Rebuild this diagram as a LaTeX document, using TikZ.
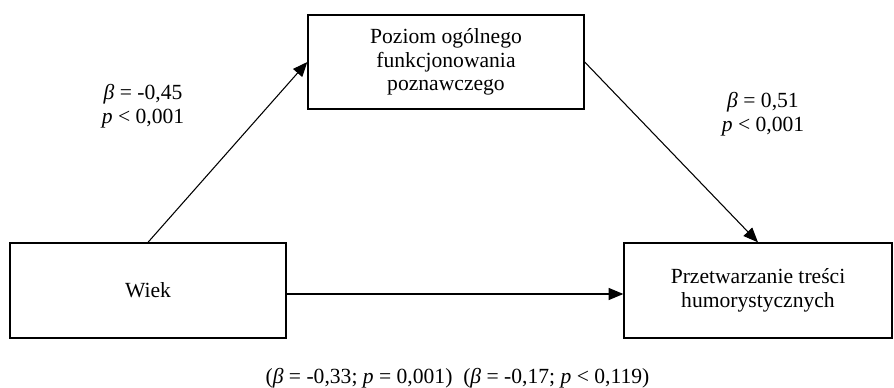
\documentclass[tikz,border=0pt]{standalone}
\usepackage{fontspec}
\setmainfont{Liberation Serif}
\usetikzlibrary{arrows.meta,calc}
\begin{document}
\begin{tikzpicture}[x=0.75pt,y=-0.75pt,
  font=\fontsize{16.2}{17.8}\selectfont,
  box/.style={draw=black,line width=1pt,inner sep=0pt,align=center,minimum height=71.25pt},
  arr/.style={draw=black,line width=0.8pt,-{Triangle[length=11pt,width=9pt]}},
  lab/.style={inner sep=0pt,align=center}]
\useasboundingbox (0,0) rectangle (894,388);
\node[box,minimum width=207pt,minimum height=70.5pt] (top) at (446,62) {Poziom ogólnego\\funkcjonowania\\poznawczego};
\node[box,minimum width=207pt] (wiek) at (148,290.5) {Wiek};
\node[box,minimum width=201pt] (out) at (758,290.5) {Przetwarzanie treści\\humorystycznych};
\draw[arr] (wiek.north) -- (top.west);
\draw[arr] (top.east) -- (out.north);
\draw[arr] ($(wiek.east)+(0,3.5)$) -- ($(out.west)+(0,3.5)$);
\node[lab] (l1) at (143,106) {\textit{β} = -0,45\\\textit{p} < 0,001};
\node[lab] (l2) at (763,114) {\textit{β} = 0,51\\\textit{p} < 0,001};
\node[lab,anchor=base] (l3) at (457.5,384) {(\textit{β} = -0,33; \textit{p} = 0,001)\ \ (\textit{β} = -0,17; \textit{p} < 0,119)};
\end{tikzpicture}
\end{document}
